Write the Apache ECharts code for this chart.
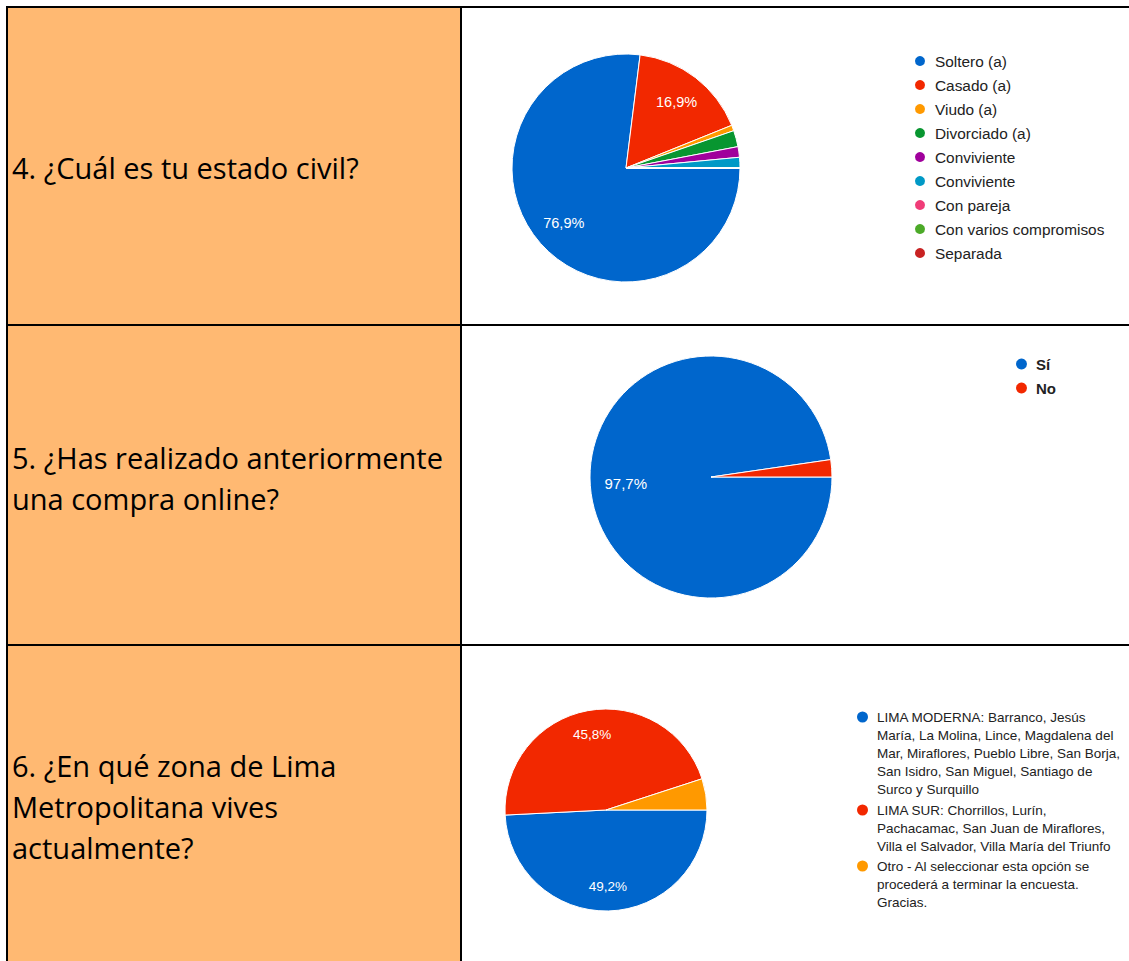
<!DOCTYPE html>
<html>
<head>
<meta charset="utf-8">
<script src="https://cdn.jsdelivr.net/npm/echarts@6/dist/echarts.min.js"></script>
<style>
  html, body { margin: 0; padding: 0; background: #ffffff; }
  #chart { width: 1129px; height: 961px; }
</style>
</head>
<body>
<div id="chart"></div>
<script>
// ---------- data ----------
const questionLines = [
  ['4. ¿Cuál es tu estado civil?'],
  ['5. ¿Has realizado anteriormente', 'una compra online?'],
  ['6. ¿En qué zona de Lima', 'Metropolitana vives', 'actualmente?']
];

const q4Categories = ['Soltero (a)', 'Casado (a)', 'Viudo (a)', 'Divorciado (a)', 'Conviviente', 'Conviviente ', 'Con pareja', 'Con varios compromisos', 'Separada'];
const q4Values = [76.9, 16.9, 0.8, 2.3, 1.5, 1.5, 0, 0, 0];
const q4Colors = ['#0066CC', '#F22800', '#FF9900', '#089630', '#A0009C', '#0099C6', '#F03C78', '#4CAA28', '#C82222'];

const q5Categories = ['Sí', 'No'];
const q5Values = [97.7, 2.3];
const q5Colors = ['#0066CC', '#F22800'];

const q6Categories = [
  'LIMA MODERNA: Barranco, Jesús María, La Molina, Lince, Magdalena del Mar, Miraflores, Pueblo Libre, San Borja, San Isidro, San Miguel, Santiago de Surco y Surquillo',
  'LIMA SUR: Chorrillos, Lurín, Pachacamac, San Juan de Miraflores, Villa el Salvador, Villa María del Triunfo',
  'Otro - Al seleccionar esta opción se procederá a terminar la encuesta. Gracias.'
];
const q6Values = [49.2, 45.8, 5.0];
const q6Colors = ['#0066CC', '#F22800', '#FF9900'];

// ---------- helpers ----------
function toData(cats, vals, colors) {
  return cats.map((c, i) => ({ name: c, value: vals[i], itemStyle: { color: colors[i] } }));
}
function pctLabel(p) {
  return p.value >= 10 ? p.value.toFixed(1).replace('.', ',') + '%' : '';
}
function pieSeries(cats, vals, colors, center, r, inner, labelSize) {
  return [
    {
      type: 'pie', center: center, radius: r, startAngle: 0, clockwise: true,
      avoidLabelOverlap: false, silent: true,
      label: { show: false }, labelLine: { show: false },
      itemStyle: { borderColor: '#ffffff', borderWidth: 1 },
      emphasis: { disabled: true },
      data: toData(cats, vals, colors)
    },
    {
      type: 'pie', center: center, radius: [inner, r], startAngle: 0, clockwise: true,
      avoidLabelOverlap: false, silent: true,
      label: { show: true, position: 'inside', formatter: pctLabel, color: '#ffffff',
               fontFamily: 'Liberation Sans, Arial, sans-serif', fontSize: labelSize },
      labelLine: { show: false },
      itemStyle: { color: 'rgba(0,0,0,0)', borderWidth: 0 },
      emphasis: { disabled: true },
      data: cats.map((c, i) => ({ name: c, value: vals[i] }))
    }
  ];
}
// greedy word wrap measured with a canvas
const measureCtx = document.createElement('canvas').getContext('2d');
function wrapWords(text, font, maxWidth) {
  measureCtx.font = font;
  const lines = [];
  let cur = '';
  text.split(' ').forEach(w => {
    const t = cur ? cur + ' ' + w : w;
    if (!cur || measureCtx.measureText(t).width <= maxWidth) cur = t;
    else { lines.push(cur); cur = w; }
  });
  if (cur) lines.push(cur);
  return lines;
}

const chart = echarts.init(document.getElementById('chart'), null, { renderer: 'svg', width: 1129, height: 961 });

const qFont = '"Open Sans", Carlito, Calibri, sans-serif';
const lineColor = '#000000';
const legendFont = 'Liberation Sans, Arial, sans-serif';

// legend for question 6: one block per entry, icon aligned with the first text line
const q6LineH = 18;
const q6Wrapped = q6Categories.map(c => wrapWords(c, '13.5px "Liberation Sans"', 247));
const q6LegendTops = [708, 801, 857];
const q6Legends = q6Categories.map((c, i) => {
  const h = q6Wrapped[i].length * q6LineH;
  return {
    data: [c], orient: 'vertical', left: 857, top: q6LegendTops[i], padding: 0,
    icon: 'path://M5.5,0 L5.5,0.01 M0,9 A5.5,5.5 0 1,1 11,9 A5.5,5.5 0 1,1 0,9 Z M5.5,' + h + ' L5.5,' + (h - 0.01),
    itemWidth: 11, itemHeight: h, selectedMode: false,
    itemStyle: { borderWidth: 0 },
    formatter: () => q6Wrapped[i].join('\n'),
    textStyle: { fontFamily: legendFont, fontSize: 13.5, color: '#222', lineHeight: q6LineH, padding: [0, 0, 0, 4] }
  };
});

const questionTops = [147, 437, 745];
const questionTexts = questionLines.map((lines, i) => ({
  type: 'text', x: 12, y: questionTops[i],
  style: { text: lines.join('\n'), fill: '#000', font: '29px ' + qFont, lineHeight: 41, verticalAlign: 'top' }
}));

const option = {
  backgroundColor: '#ffffff',
  animation: false,
  graphic: { elements: [
    { type: 'rect', shape: { x: 7, y: 7, width: 454, height: 960 }, style: { fill: '#FFB972' }, silent: true },
    { type: 'line', shape: { x1: 6, y1: 7, x2: 1129, y2: 7 }, style: { stroke: lineColor, lineWidth: 2 } },
    { type: 'line', shape: { x1: 7, y1: 6, x2: 7, y2: 961 }, style: { stroke: lineColor, lineWidth: 2 } },
    { type: 'line', shape: { x1: 461, y1: 6, x2: 461, y2: 961 }, style: { stroke: lineColor, lineWidth: 2 } },
    { type: 'line', shape: { x1: 6, y1: 325, x2: 1129, y2: 325 }, style: { stroke: lineColor, lineWidth: 2 } },
    { type: 'line', shape: { x1: 6, y1: 645, x2: 1129, y2: 645 }, style: { stroke: lineColor, lineWidth: 2 } }
  ].concat(questionTexts) },
  legend: [
    {
      data: q4Categories, orient: 'vertical', left: 908, top: 47,
      icon: 'circle', itemWidth: 12, itemHeight: 12, itemGap: 6,
      selectedMode: false,
      textStyle: { fontFamily: legendFont, fontSize: 15.4, color: '#222', lineHeight: 18, padding: [0, 0, 0, 4] }
    },
    {
      data: q5Categories, orient: 'vertical', left: 1009, top: 350,
      icon: 'circle', itemWidth: 13, itemHeight: 13, itemGap: 6,
      selectedMode: false,
      textStyle: { fontFamily: legendFont, fontSize: 15, fontWeight: 'bold', color: '#222', lineHeight: 18, padding: [0, 0, 0, 3] }
    }
  ].concat(q6Legends),
  series: [].concat(
    pieSeries(q4Categories, q4Values, q4Colors, [626, 168], 114, 46, 14.5),
    pieSeries(q5Categories, q5Values, q5Colors, [711, 477], 121, 44, 15),
    pieSeries(q6Categories, q6Values, q6Colors, [606, 810], 101, 46, 13.5)
  )
};
chart.setOption(option);
</script>
</body>
</html>
